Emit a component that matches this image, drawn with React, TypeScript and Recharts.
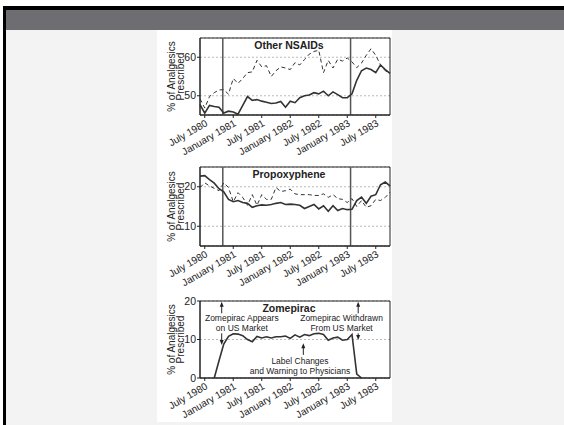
import {
  LineChart,
  Line,
  XAxis,
  YAxis,
  CartesianGrid,
  ReferenceLine,
  ReferenceArea,
  ReferenceDot,
} from "recharts";

// month index: 0 = June 1980 ... 40 = October 1983
const months = [
  0, 1, 2, 3, 4, 5, 6, 7, 8, 9, 10, 11, 12, 13, 14, 15, 16, 17, 18, 19, 20,
  21, 22, 23, 24, 25, 26, 27, 28, 29, 30, 31, 32, 33, 34, 35, 36, 37, 38, 39, 40,
];
const xTicks = [1, 7, 13, 19, 25, 31, 37];
const xTickLabels = [
  "July 1980",
  "January 1981",
  "July 1981",
  "January 1982",
  "July 1982",
  "January 1983",
  "July 1983",
];

const nsaidSolid = [
  47.7, 45.5, 47.5, 47.2, 47.0, 45.5, 46.0, 45.8, 45.2, 47.5, 49.8, 48.8, 49.0,
  48.6, 48.3, 48.0, 48.1, 48.5, 47.0, 48.6, 48.2, 49.5, 50.0, 50.2, 50.8, 50.5,
  51.2, 50.0, 51.0, 50.3, 49.5, 49.5, 50.5, 54.0, 56.5, 57.2, 56.8, 56.0, 58.0,
  56.8, 55.8,
];
const nsaidDashed = [
  49.2, 46.8, 49.8, 50.8, 51.5, 51.6, 50.4, 54.5, 53.2, 54.5, 56.0, 56.2, 59.2,
  57.5, 57.8, 55.0, 56.5, 57.5, 57.2, 56.8, 58.6, 58.0, 59.4, 60.8, 61.5, 61.8,
  56.0, 59.2, 57.2, 59.5, 59.0, 59.8, 58.8, 57.3, 58.5, 60.5, 62.2, 60.5, 58.0,
  56.5, 55.8,
];
const propSolid = [
  22.7, 22.8, 21.8, 20.9, 19.5, 18.7, 16.8, 16.2, 16.5, 16.0, 15.8, 14.8, 15.2,
  15.4, 15.3, 15.5, 15.8, 16.0, 15.5, 15.6, 15.5, 15.3, 14.5, 15.0, 15.5, 14.4,
  15.2, 13.8, 15.2, 14.0, 14.5, 14.2, 14.3, 16.5, 17.4, 15.8, 17.6, 18.0, 20.5,
  21.2, 20.2,
];
const propDashed = [
  19.8, 21.0, 20.2, 19.6, 19.0, 21.0, 19.8, 16.2, 18.5, 17.3, 15.3, 18.0, 15.3,
  18.0, 16.8, 16.8, 19.8, 18.8, 19.0, 19.4, 18.2, 18.0, 18.0, 18.0, 17.8, 17.8,
  18.2, 17.3, 18.0, 17.0, 16.8, 16.0, 17.0, 15.0, 16.5, 14.8, 15.2, 16.8, 16.5,
  17.3, 18.6,
];
const zomepirac = [
  null, null, null, 0, 4.5, 8.8, 10.8, 11.5, 11.4, 11.0, 10.0, 9.4, 10.8, 10.4,
  10.7, 10.4, 10.7, 10.7, 10.9, 10.3, 11.2, 10.6, 11.3, 11.0, 11.5, 11.6, 11.3,
  9.8, 10.4, 10.6, 9.8, 10.0, 11.3, 1.0, 0, null, null, null, null, null, null,
];

// market events (month index)
const zomeAppears = 4.8;
const zomeWithdrawn = 31.7;

const ink = "#222";
const fontFamily = "'Liberation Sans', Arial, sans-serif";

const tickFmt = (v: number) => xTickLabels[xTicks.indexOf(v)] ?? "";

const renderYLabel = (props: any) => {
  const vb = props.viewBox;
  const cy = vb.y + vb.height / 2;
  return (
    <g fill={ink} fontSize={10}>
      <text transform={`translate(${vb.x + 5},${cy}) rotate(-90)`} textAnchor="middle">
        % of Analgesics
      </text>
      <text transform={`translate(${vb.x + 13.5},${cy}) rotate(-90)`} textAnchor="middle">
        Prescribed
      </text>
    </g>
  );
};

const titleLabel = (title: string) => (props: any) => {
  const vb = props.viewBox;
  return (
    <text
      x={vb.x + vb.width / 2 - 6}
      y={vb.y + 10.5}
      textAnchor="middle"
      fontSize={10.5}
      fontWeight="bold"
      fill={ink}
    >
      {title}
    </text>
  );
};

const noteText = (value: string) => (p: any) => (
  <text x={p.cx} y={p.cy} dy={3} textAnchor="middle" fontSize={8.5} fill={ink}>
    {value}
  </text>
);

const Arrow = (p: any) => {
  const { x1, y1, x2, y2 } = p;
  const dir = y2 < y1 ? -1 : 1;
  return (
    <g>
      <line x1={x1} y1={y1} x2={x2} y2={y2 - dir * 3} stroke={ink} strokeWidth={1} />
      <path
        d={`M${x2},${y2} L${x2 - 2},${y2 - dir * 5} L${x2 + 2},${y2 - dir * 5} Z`}
        fill={ink}
      />
    </g>
  );
};

function Panel({
  data,
  title,
  domain,
  yTicks,
  top,
  height,
  marginTop,
  dashed,
  events,
  children,
}: {
  data: any[];
  title: string;
  domain: [number, number];
  yTicks: number[];
  top: number;
  height: number;
  marginTop: number;
  dashed: boolean;
  events: boolean;
  children?: any;
}) {
  return (
    <div style={{ position: "absolute", left: 157, top }}>
      <LineChart
        width={235}
        height={height}
        data={data}
        margin={{ top: marginTop, right: 2, bottom: 0, left: 13 }}
      >
        <CartesianGrid vertical={false} stroke="#bbb" strokeDasharray="2 2" />
        <XAxis
          dataKey="m"
          type="number"
          domain={[0, 40]}
          ticks={xTicks}
          interval={0}
          tickFormatter={tickFmt}
          angle={-30}
          textAnchor="end"
          height={47}
          tickSize={3}
          tickMargin={1}
          stroke={ink}
          tick={{ fontSize: 10, fill: ink }}
        />
        <YAxis
          type="number"
          domain={domain}
          ticks={yTicks}
          width={30}
          tickSize={3}
          tickMargin={1}
          stroke={ink}
          tick={{ fontSize: 10.5, fill: ink }}
          label={{ content: renderYLabel }}
        />
        <ReferenceArea
          x1={0}
          x2={40}
          y1={domain[0]}
          y2={domain[1]}
          fill="none"
          stroke={ink}
          strokeWidth={1}
          label={{ content: titleLabel(title) }}
        />
        {events && (
          <ReferenceLine x={zomeAppears} stroke="#555" strokeWidth={1.5} />
        )}
        {events && (
          <ReferenceLine x={zomeWithdrawn} stroke="#555" strokeWidth={1.5} />
        )}
        {dashed && (
          <Line
            dataKey="b"
            stroke="#333"
            strokeWidth={1}
            strokeDasharray="4 3"
            dot={false}
            isAnimationActive={false}
          />
        )}
        <Line
          dataKey="a"
          stroke="#333"
          strokeWidth={1.6}
          dot={false}
          isAnimationActive={false}
        />
        {children}
      </LineChart>
    </div>
  );
}

export default function App() {
  const nsaidData = months.map((m, i) => ({ m, a: nsaidSolid[i], b: nsaidDashed[i] }));
  const propData = months.map((m, i) => ({ m, a: propSolid[i], b: propDashed[i] }));
  const zomeData = months.map((m, i) => ({ m, a: zomepirac[i] }));

  return (
    <div
      style={{
        position: "absolute",
        left: 0,
        top: 0,
        width: 564,
        height: 425,
        background: "#fff",
        overflow: "hidden",
        fontFamily,
      }}
    >
      <div
        style={{
          position: "absolute",
          left: 3,
          top: 6,
          width: 570,
          height: 430,
          background: "#000",
        }}
      />
      <div
        style={{
          position: "absolute",
          left: 6,
          top: 10,
          width: 570,
          height: 20,
          background: "#6e6d72",
        }}
      />
      <div
        style={{
          position: "absolute",
          left: 6,
          top: 30,
          width: 570,
          height: 400,
          background: "#f3f3f3",
        }}
      />
      <div
        style={{
          position: "absolute",
          left: 157,
          top: 30,
          width: 235,
          height: 392,
          background: "#fff",
        }}
      />
      <Panel
        data={nsaidData}
        title="Other NSAIDs"
        domain={[45, 65]}
        yTicks={[50, 60]}
        top={30}
        height={132}
        marginTop={8}
        dashed
        events
      />
      <Panel
        data={propData}
        title="Propoxyphene"
        domain={[5, 25]}
        yTicks={[10, 20]}
        top={155}
        height={138}
        marginTop={12}
        dashed
        events
      />
      <Panel
        data={zomeData}
        title="Zomepirac"
        domain={[0, 20]}
        yTicks={[0, 10, 20]}
        top={286}
        height={139}
        marginTop={15}
        dashed={false}
        events={false}
      >
        <ReferenceDot x={8.8} y={15.5} r={0} shape={noteText("Zomepirac Appears")} />
        <ReferenceDot x={8.8} y={12.9} r={0} shape={noteText("on US Market")} />
        <ReferenceDot x={29.8} y={15.5} r={0} shape={noteText("Zomepirac Withdrawn")} />
        <ReferenceDot x={29.8} y={12.9} r={0} shape={noteText("From US Market")} />
        <ReferenceDot x={21.05} y={4.5} r={0} shape={noteText("Label Changes")} />
        <ReferenceDot x={21.05} y={1.7} r={0} shape={noteText("and Warning to Physicians")} />
        <ReferenceLine segment={[{ x: 4.57, y: 16.8 }, { x: 4.57, y: 19.8 }]} shape={Arrow} />
        <ReferenceLine segment={[{ x: 4.57, y: 11.6 }, { x: 4.57, y: 8.6 }]} shape={Arrow} />
        <ReferenceLine segment={[{ x: 33.3, y: 16.8 }, { x: 33.3, y: 19.8 }]} shape={Arrow} />
        <ReferenceLine segment={[{ x: 33.3, y: 11.6 }, { x: 33.3, y: 9.9 }]} shape={Arrow} />
        <ReferenceLine segment={[{ x: 21.75, y: 6.0 }, { x: 21.75, y: 9.0 }]} shape={Arrow} />
      </Panel>
    </div>
  );
}
